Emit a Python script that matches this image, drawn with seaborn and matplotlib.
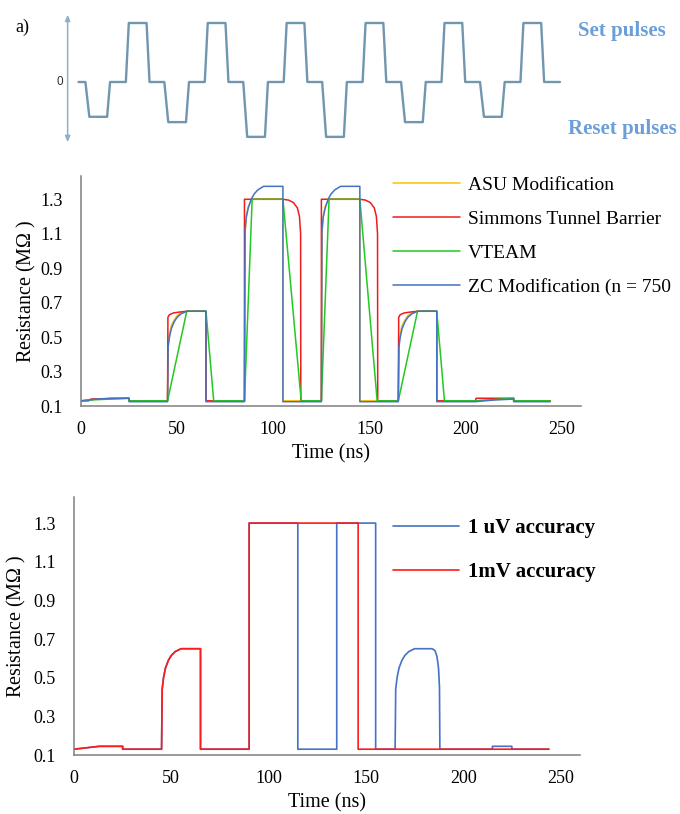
import matplotlib
matplotlib.use("Agg")
import matplotlib.pyplot as plt
import seaborn as sns
import pandas as pd

# ---------------- data ----------------
# (a) pulse train (arbitrary time units, normalised amplitude)
pulse_t = [0,
           3.5, 5.5, 14.5, 16, 24, 25.5, 34.5, 36,
           43.5, 45.5, 54.5, 56, 64, 65.5, 74.5, 76,
           83.5, 85.5, 94.5, 96, 104, 105.5, 114.5, 116,
           123.5, 125.5, 134.5, 136, 144, 145.5, 154.5, 156,
           163.5, 165.5, 174.5, 176, 184, 185.5, 194.5, 196,
           203.5, 205.5, 214.5, 216, 224, 225.5, 234.5, 236,
           244]
pulse_v = [0,
           0, -0.59, -0.59, 0, 0, 1, 1, 0,
           0, -0.68, -0.68, 0, 0, 1, 1, 0,
           0, -0.93, -0.93, 0, 0, 1, 1, 0,
           0, -0.93, -0.93, 0, 0, 1, 1, 0,
           0, -0.68, -0.68, 0, 0, 1, 1, 0,
           0, -0.59, -0.59, 0, 0, 1, 1, 0,
           0]

# middle chart: resistance (MOhm) vs time (ns) for four models
asu_t = [0, 8, 16, 25, 25, 45, 45.3, 46, 47, 48.5, 50, 52, 55, 65, 65,
         85, 85.3, 86, 87, 89, 105, 105, 125, 125.3, 126, 127, 129, 145, 145,
         165, 165.3, 166, 167, 168.5, 170, 172, 175, 185, 185, 205, 215, 225, 225, 244]
asu_r = [0.13, 0.14, 0.145, 0.145, 0.13, 0.13, 0.46, 0.52, 0.57, 0.6, 0.625, 0.64, 0.65, 0.65, 0.13,
         0.13, 1.1, 1.2, 1.26, 1.3, 1.3, 0.13, 0.13, 1.1, 1.2, 1.26, 1.3, 1.3, 0.13,
         0.13, 0.46, 0.52, 0.57, 0.6, 0.625, 0.64, 0.65, 0.65, 0.13, 0.13, 0.138, 0.142, 0.13, 0.13]

sim_t = [0, 4, 5, 25, 25, 45, 45.2, 46, 48, 51, 55, 65, 65,
         85, 85, 105, 108, 110.5, 112.5, 113.6, 114.2, 114.3,
         125, 125, 145, 148, 150.5, 152.5, 153.6, 154.2, 154.3,
         165, 165.2, 166, 168, 171, 175, 185, 185, 205, 205.5, 225, 225, 244]
sim_r = [0.13, 0.13, 0.14, 0.145, 0.13, 0.13, 0.615, 0.63, 0.64, 0.645, 0.65, 0.65, 0.13,
         0.13, 1.3, 1.3, 1.295, 1.28, 1.25, 1.2, 1.1, 0.13,
         0.13, 1.3, 1.3, 1.295, 1.28, 1.25, 1.2, 1.1, 0.13,
         0.13, 0.615, 0.63, 0.64, 0.645, 0.65, 0.65, 0.13, 0.13, 0.145, 0.145, 0.13, 0.13]

vt_t = [0, 5, 25, 25, 45, 55, 65, 69, 85, 89, 105, 114.5, 125, 129, 145, 154,
        165, 175, 185, 189, 205, 225, 225, 244]
vt_r = [0.13, 0.135, 0.145, 0.13, 0.13, 0.65, 0.65, 0.13, 0.13, 1.3, 1.3, 0.13, 0.13, 1.3, 1.3, 0.13,
        0.13, 0.65, 0.65, 0.13, 0.13, 0.145, 0.13, 0.13]

zc_t = [0, 8, 16, 25, 25, 45, 45.3, 46, 47, 48.5, 50, 52, 55, 65, 65,
        85, 85.3, 86, 87, 88.5, 90, 92, 95, 105, 105,
        125, 125.3, 126, 127, 128.5, 130, 132, 135, 145, 145,
        165, 165.3, 166, 167, 168.5, 170, 172, 175, 185, 185, 205, 215, 225, 225, 244]
zc_r = [0.13, 0.14, 0.145, 0.145, 0.125, 0.125, 0.44, 0.5, 0.55, 0.59, 0.615, 0.635, 0.65, 0.65, 0.125,
        0.125, 1.12, 1.2, 1.25, 1.3, 1.33, 1.355, 1.375, 1.375, 0.125,
        0.125, 1.12, 1.2, 1.25, 1.3, 1.33, 1.355, 1.375, 1.375, 0.125,
        0.125, 0.44, 0.5, 0.55, 0.59, 0.615, 0.635, 0.65, 0.65, 0.125, 0.125, 0.135, 0.14, 0.125, 0.125]

# bottom chart: two simulation accuracies
uv_t = [0, 13, 25, 25, 45, 45.3, 46, 47, 48.5, 50, 52, 55, 65, 65,
        90, 90, 115, 115, 135, 135, 155, 155,
        165, 165.3, 166, 167, 168.5, 170, 172, 175, 184, 185.5, 186.5, 187.3, 187.8, 188,
        215, 215, 225, 225, 244]
uv_r = [0.13, 0.145, 0.145, 0.13, 0.13, 0.44, 0.5, 0.55, 0.59, 0.615, 0.635, 0.65, 0.65, 0.13,
        0.13, 1.3, 1.3, 0.13, 0.13, 1.3, 1.3, 0.13,
        0.13, 0.44, 0.5, 0.55, 0.59, 0.615, 0.635, 0.65, 0.65, 0.64, 0.61, 0.55, 0.45, 0.13,
        0.13, 0.145, 0.145, 0.13, 0.13]

mv_t = [0, 13, 25, 25, 45, 45.3, 46, 47, 48.5, 50, 52, 55, 65, 65, 90, 90, 146, 146, 244]
mv_r = [0.13, 0.145, 0.145, 0.13, 0.13, 0.44, 0.5, 0.55, 0.59, 0.615, 0.635, 0.65, 0.65, 0.13,
        0.13, 1.3, 1.3, 0.13, 0.13]

mid_labels = ["ASU Modification", "Simmons Tunnel Barrier", "VTEAM", "ZC Modification (n = 750"]
bot_labels = ["1 uV accuracy", "1mV accuracy"]
y_ticks = [0.1, 0.3, 0.5, 0.7, 0.9, 1.1, 1.3]
x_ticks = [0, 50, 100, 150, 200, 250]

# ---------------- style ----------------
sns.set_style("white")
plt.rcParams["font.family"] = ["Liberation Serif", "DejaVu Serif"]
plt.rcParams["mathtext.fontset"] = "custom"
plt.rcParams["mathtext.rm"] = "Liberation Serif"
plt.rcParams["mathtext.it"] = "Liberation Serif:italic"
plt.rcParams["mathtext.bf"] = "Liberation Serif:bold"
plt.rcParams["text.color"] = "black"
plt.rcParams["axes.labelcolor"] = "black"
plt.rcParams["xtick.color"] = "black"
plt.rcParams["ytick.color"] = "black"

W, H = 680, 814
fig = plt.figure(figsize=(W / 100, H / 100), dpi=100)


def px_rect(l, t, r, b):
    return [l / W, 1 - b / H, (r - l) / W, (b - t) / H]


# ---------------- (a) pulse diagram ----------------
ax0 = fig.add_axes(px_rect(0, 0, 680, 160))
ax0.set_xlim(-78.5 / 1.973, (680 - 78.5) / 1.973)
ax0.set_ylim((82 - 160) / 59, 82 / 59)
ax0.axis("off")
sns.lineplot(x=pulse_t, y=pulse_v, ax=ax0, color="#7096b0", linewidth=1.7,
             estimator=None, sort=False)
ax0.annotate("", xy=(-5.5, 1.14), xytext=(-5.5, -1.02),
             arrowprops=dict(arrowstyle="<|-|>,head_length=0.35,head_width=0.15",
                             color="#8fb0c6", lw=1.1, shrinkA=0, shrinkB=0))
ax0.text(-7.6, 0.0, "0", ha="right", va="center", fontsize=8.5,
         family=["Liberation Sans", "DejaVu Sans"], color="#303030")
fig.text(22 / W, 1 - 27 / H, "a)", ha="center", va="center", fontsize=13)
fig.text(622 / W, 1 - 31 / H, "Set pulses", ha="center", va="center",
         fontsize=15, fontweight="bold", color="#6a9fd8")
fig.text(622 / W, 1 - 129 / H, "Reset pulses", ha="center", va="center",
         fontsize=15, fontweight="bold", color="#6a9fd8")


def style_axes(ax, ylabelpad):
    ax.set_xlim(0, 260)
    ax.set_ylim(0.1, 1.435)
    ax.set_xticks(x_ticks)
    ax.set_yticks(y_ticks)
    ax.set_yticklabels([f"{v:.1f}" for v in y_ticks])
    for s in ["top", "right"]:
        ax.spines[s].set_visible(False)
    for s in ["left", "bottom"]:
        ax.spines[s].set_color("#7f7f7f")
        ax.spines[s].set_linewidth(1.1)
    ax.tick_params(axis="both", length=0, labelsize=13, colors="black")
    ax.tick_params(axis="y", pad=13)
    ax.tick_params(axis="x", pad=11)
    ax.set_xlabel("Time (ns)", fontsize=14.5, labelpad=4)
    ax.set_ylabel(r"Resistance (M$\mathit{\Omega}$ )", fontsize=14.5, labelpad=ylabelpad)


# ---------------- middle chart ----------------
ax1 = fig.add_axes(px_rect(81, 176, 581, 406))
mid_series = [(asu_t, asu_r, "#ffc000"), (sim_t, sim_r, "#ee1c1c"),
              (vt_t, vt_r, "#22c922"), (zc_t, zc_r, "#4472c4")]
for (t, r, c), lab in zip(mid_series, mid_labels):
    sns.lineplot(x=t, y=r, ax=ax1, color=c, linewidth=1.1, label=lab,
                 estimator=None, sort=False)
style_axes(ax1, 2)
ax1.legend(loc="upper left", bbox_to_anchor=(393 / W, 1 - 176 / H),
           bbox_transform=fig.transFigure, frameon=False, fontsize=14,
           handlelength=3.45, handletextpad=0.42, labelspacing=0.84,
           borderpad=0, borderaxespad=0)

# ---------------- bottom chart ----------------
ax2 = fig.add_axes(px_rect(74, 497, 580, 755))
sns.lineplot(x=uv_t, y=uv_r, ax=ax2, color="#4472c4", linewidth=1.2,
             label=bot_labels[0], estimator=None, sort=False)
sns.lineplot(x=mv_t, y=mv_r, ax=ax2, color="#ff1a1a", linewidth=1.2,
             label=bot_labels[1], estimator=None, sort=False)
style_axes(ax2, 4)
ax2.legend(loc="upper left", bbox_to_anchor=(393 / W, 1 - 518 / H),
           bbox_transform=fig.transFigure, frameon=False,
           prop=dict(size=15, weight="bold"),
           handlelength=3.17, handletextpad=0.43, labelspacing=1.16,
           borderpad=0, borderaxespad=0)

fig.savefig("out.png", dpi=100)
